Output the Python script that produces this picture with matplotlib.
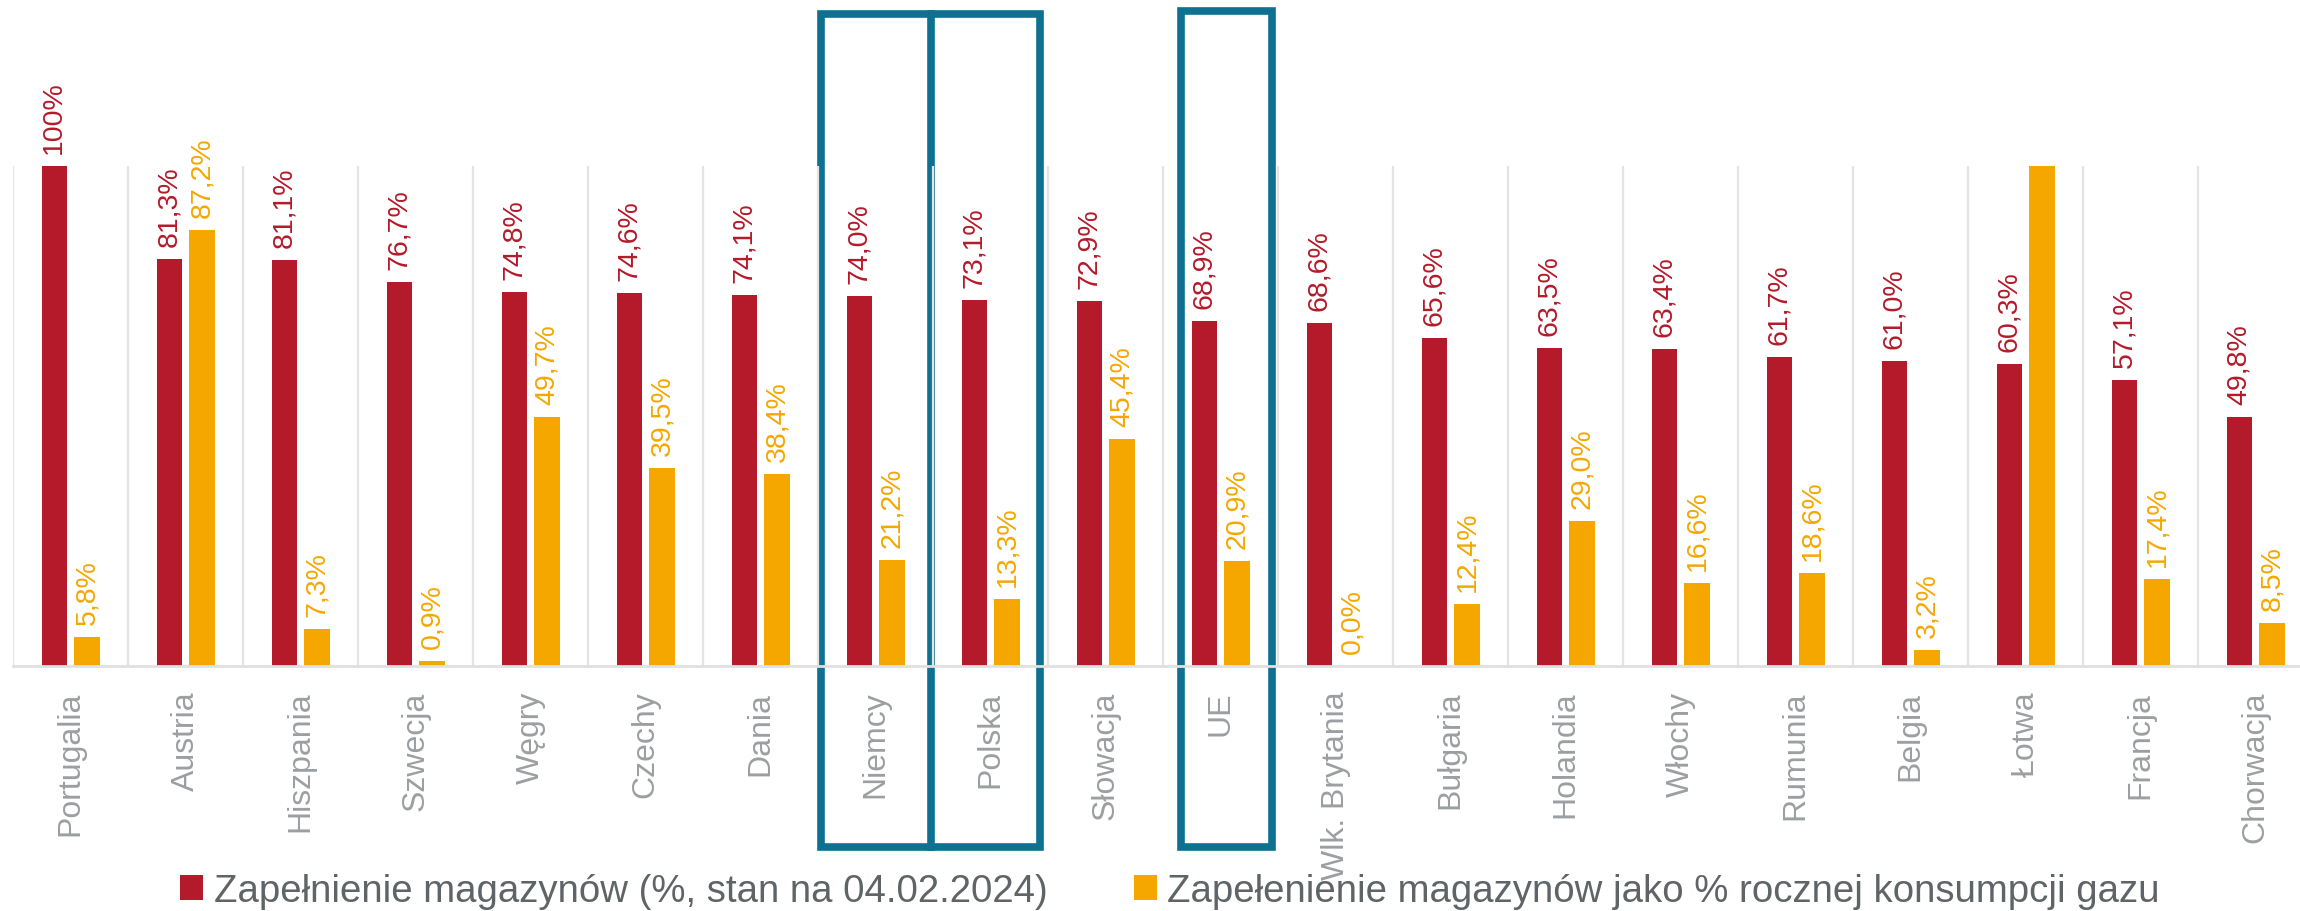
import matplotlib
matplotlib.use("Agg")
import matplotlib.pyplot as plt
import matplotlib.transforms as mtransforms
from matplotlib.patches import Rectangle
from matplotlib.lines import Line2D
import numpy as np

# dane
kraje = ['Portugalia', 'Austria', 'Hiszpania', 'Szwecja', 'Węgry', 'Czechy', 'Dania',
         'Niemcy', 'Polska', 'Słowacja', 'UE', 'Wlk. Brytania', 'Bułgaria', 'Holandia',
         'Włochy', 'Rumunia', 'Belgia', 'Łotwa', 'Francja', 'Chorwacja']
zapelnienie = [100, 81.3, 81.1, 76.7, 74.8, 74.6, 74.1, 74.0, 73.1, 72.9, 68.9, 68.6,
               65.6, 63.5, 63.4, 61.7, 61.0, 60.3, 57.1, 49.8]
# Łotwa wychodzi poza skalę (słupek ucięty na 100%, bez etykiety)
konsumpcja = [5.8, 87.2, 7.3, 0.9, 49.7, 39.5, 38.4, 21.2, 13.3, 45.4, 20.9, 0.0,
              12.4, 29.0, 16.6, 18.6, 3.2, 100, 17.4, 8.5]
pokaz_etykiete_kons = [True] * 17 + [False] + [True] * 2

seria1 = 'Zapełnienie magazynów (%, stan na 04.02.2024)'
seria2 = 'Zapełenienie magazynów jako % rocznej konsumpcji gazu'

RED = '#B41A2A'
ORANGE = '#F5A700'
BLUE = '#0E7191'
GREY = '#9B9FA1'
GRID = '#E3E3E3'

FONT = ['Liberation Sans', 'DejaVu Sans']


def fmt(v):
    if v == 100:
        return '100%'
    return f'{v:.1f}'.replace('.', ',') + '%'


fig = plt.figure(figsize=(23, 9.12), dpi=100)
ax = fig.add_axes([13.3 / 2300, 1 - 666.7 / 912, 1.0, (666.7 - 167) / 912])
ax.patch.set_alpha(0)

x = np.arange(len(kraje))
w = 0.223
off = 0.143
ax.bar(x - off, zapelnienie, w, color=RED, zorder=2, label=seria1)
ax.bar(x + off, konsumpcja, w, color=ORANGE, zorder=2, label=seria2)

for i, v in enumerate(zapelnienie):
    ax.annotate(fmt(v), (x[i] - off, v), xytext=(0, 9.5), textcoords='offset points',
                rotation=90, ha='center', va='bottom', color=RED, fontsize=20.5,
                family=FONT, annotation_clip=False)
for i, v in enumerate(konsumpcja):
    if pokaz_etykiete_kons[i]:
        ax.annotate(fmt(v), (x[i] + off, v), xytext=(0, 9.5), textcoords='offset points',
                    rotation=90, ha='center', va='bottom', color=ORANGE, fontsize=20.5,
                    family=FONT, annotation_clip=False)

ax.set_xlim(-0.5, len(kraje) - 0.5)
ax.set_ylim(0, 100)
ax.set_yticks([])
ax.set_xticks(x)
ax.set_xticklabels(kraje, rotation=90, color=GREY, fontsize=23, family=FONT)
ax.tick_params(axis='x', length=0, pad=18)
ax.set_xticks(np.arange(-0.5, len(kraje)), minor=True)
ax.tick_params(axis='x', which='minor', length=0)
ax.grid(True, which='minor', axis='x', color=GRID, linewidth=1.6, zorder=1)
ax.grid(False, which='major')
for s in ['top', 'left', 'right']:
    ax.spines[s].set_visible(False)
ax.spines['bottom'].set_color('#E0E0E0')
ax.spines['bottom'].set_linewidth(2)
ax.spines['bottom'].set_zorder(3)

# ramki wyróżniające Niemcy / Polska oraz UE
tr = mtransforms.blended_transform_factory(ax.transData, fig.transFigure)
y_dol = 1 - 848 / 912
for x0, x1, y_gora in [(6.523, 8.428, 1 - 14.5 / 912), (9.65, 10.441, 1 - 12 / 912)]:
    ax.add_patch(Rectangle((x0, y_dol), x1 - x0, y_gora - y_dol, transform=tr,
                           fill=False, edgecolor=BLUE, linewidth=5.5, joinstyle='miter',
                           clip_on=False, zorder=0.8))
ax.add_line(Line2D([7.476, 7.476], [y_dol, 1 - 14.5 / 912], transform=tr, color=BLUE,
                   linewidth=5.5, clip_on=False, zorder=0.8))

fig.legend(loc='center', bbox_to_anchor=(1170 / 2300, 1 - 892 / 912), ncol=2,
           frameon=False, prop={'family': FONT, 'size': 27.6},
           labelcolor='#5F6466', handlelength=0.6, handleheight=0.6,
           handletextpad=0.28, columnspacing=2.25, borderpad=0, borderaxespad=0)

fig.savefig('out.png', dpi=100)
